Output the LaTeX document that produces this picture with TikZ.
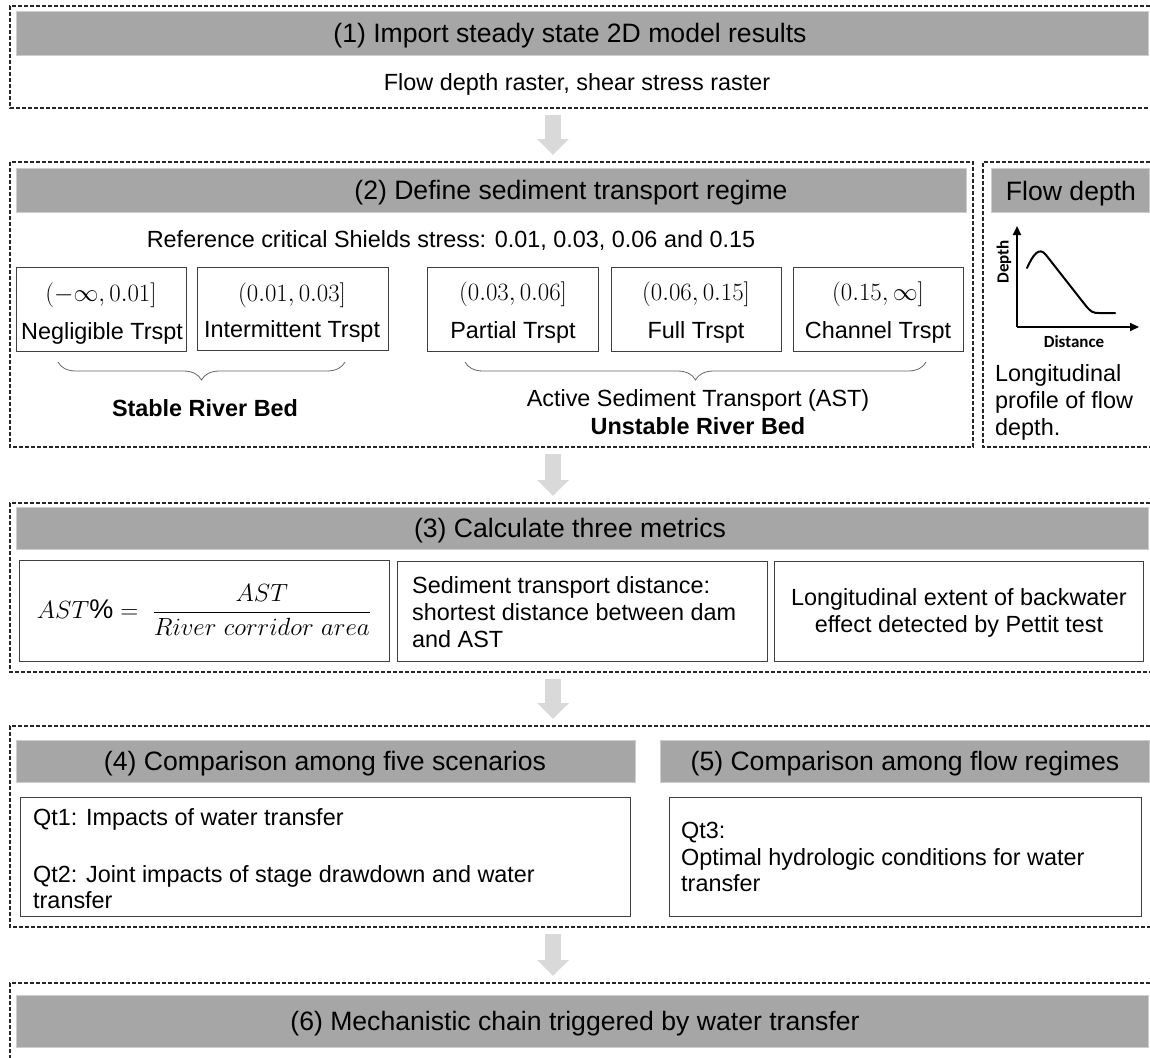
\documentclass[tikz,border=0pt]{standalone}
\usepackage{fontspec}
\setmainfont{Liberation Sans}
\newfontfamily\calibfont{Carlito}
\usetikzlibrary{arrows.meta,decorations.pathreplacing}
\definecolor{barg}{RGB}{166,166,166}
\definecolor{barl}{RGB}{205,205,205}
\definecolor{arrg}{RGB}{217,217,217}
\definecolor{boxl}{RGB}{64,64,64}
\newcommand{\ttlfont}{\fontsize{26.6}{32}\selectfont}
\newcommand{\bodyfont}{\fontsize{23.4}{27}\selectfont}
\newcommand{\lblfont}{\calibfont\bfseries\fontsize{17}{20}\selectfont}
\begin{document}
\begin{tikzpicture}[x=1pt,y=-1pt,
  frame/.style={draw=black!85, dash pattern=on 4pt off 2pt, line width=1.1pt},
  graybar/.style={fill=barg, draw=barl, line width=1pt, inner sep=0pt, anchor=north west},
  regbox/.style={draw=boxl, line width=1.3pt, inner sep=0pt, anchor=north west},
  ttl/.style={font=\ttlfont, inner sep=0pt, anchor=base},
  txt/.style={font=\bodyfont, inner sep=0pt, anchor=base},
  txtl/.style={font=\bodyfont, inner sep=0pt, anchor=base west},
  boldtxt/.style={font=\bodyfont\bfseries, inner sep=0pt, anchor=base},
  bigarrow/.style={draw=arrg, line width=16pt, -{Triangle[length=16pt,width=31pt]}, shorten <=7pt, shorten >=7pt},
  brc/.style={draw=black!60, line width=0.8pt, decorate, decoration={brace, mirror, amplitude=18pt}},
  axisline/.style={draw=black, line width=2pt, -{Triangle[length=9pt,width=8pt]}},
  lbl/.style={font=\lblfont, inner sep=0pt}
]
\useasboundingbox (0,0) rectangle (1150,1057);

% ---------- frames ----------
\draw[frame] (1150,6) -- (10,6) -- (10,108) -- (1150,108);
\draw[frame] (10,162) rectangle (973,447);
\draw[frame] (1150,162) -- (983,162) -- (983,447) -- (1150,447);
\draw[frame] (1150,503) -- (10,503) -- (10,672) -- (1150,672);
\draw[frame] (1150,726) -- (10,726) -- (10,927) -- (1150,927);
\draw[frame] (1150,983) -- (10,983) -- (10,1062);

% ---------- section 1 ----------
\node[graybar, minimum width=1132pt, minimum height=44pt] (g1) at (16,11) {};
\node[ttl] (t1) at (570,43) {(1) Import steady state 2D model results};
\node[txt] (s1txt) at (577,90) {Flow depth raster, shear stress raster};

% ---------- section 2 ----------
\node[graybar, minimum width=950pt, minimum height=44pt] (g2) at (16,168) {};
\node[ttl] (t2) at (571,199) {(2) Define sediment transport regime};
\node[txt] (ref) at (451,247) {Reference critical Shields stress: 0.01, 0.03, 0.06 and 0.15};

\node[regbox, minimum width=170pt, minimum height=84pt] (bA) at (16,267) {};
\node[regbox, minimum width=191pt, minimum height=83pt] (bB) at (197,267) {};
\node[regbox, minimum width=171pt, minimum height=84pt] (bC) at (427,267) {};
\node[regbox, minimum width=170pt, minimum height=84pt] (bD) at (611,267) {};
\node[regbox, minimum width=170pt, minimum height=84pt] (bE) at (793,267) {};

\node[txt] (mA) at (101,301) {$(-\infty, 0.01]$};
\node[txt] (wA) at (102,339) {Negligible Trspt};
\node[txt] (mB) at (292,301) {$(0.01, 0.03]$};
\node[txt] (wB) at (292,337) {Intermittent Trspt};
\node[txt] (mC) at (513,300) {$(0.03, 0.06]$};
\node[txt] (wC) at (513,338) {Partial Trspt};
\node[txt] (mD) at (696,300) {$(0.06, 0.15]$};
\node[txt] (wD) at (696,338) {Full Trspt};
\node[txt] (mE) at (878,300) {$(0.15, \infty]$};
\node[txt] (wE) at (878,338) {Channel Trspt};

\coordinate (br1a) at (58,362);
\coordinate (br1b) at (345,362);
\coordinate (br2a) at (465,362);
\coordinate (br2b) at (926,362);
\draw[brc] (br1a) -- (br1b);
\draw[brc] (br2a) -- (br2b);
\node[boldtxt] (stable) at (205,416) {Stable River Bed};
\node[txt] (active) at (698,406) {Active Sediment Transport (AST)};
\node[boldtxt] (unstable) at (698,434) {Unstable River Bed};

% ---------- flow depth panel ----------
\node[graybar, minimum width=158pt, minimum height=44pt] (gf) at (991,168) {};
\node[ttl] (tf) at (1071,200) {Flow depth};
\coordinate (org) at (1017,327);
\coordinate (ytip) at (1017,226);
\coordinate (xtip) at (1139,327);
\draw[axisline] (org) -- (ytip);
\draw[axisline] (org) -- (xtip);
\draw[line width=2pt, line cap=round, line join=round]
  (1027,268) .. controls (1033,255) and (1039,246) .. (1046,255)
  -- (1086,306) .. controls (1091,312) and (1093,313) .. (1099,313) -- (1115,313);
\node[lbl, rotate=90] (depthlbl) at (1004,262) {Depth};
\node[lbl] (distlbl) at (1074,342) {Distance};
\node[txtl] (lp1) at (995,381) {Longitudinal};
\node[txtl] (lp2) at (995,408) {profile of flow};
\node[txtl] (lp3) at (995,435) {depth.};

% ---------- section 3 ----------
\node[graybar, minimum width=1132pt, minimum height=42pt] (g3) at (16,507) {};
\node[ttl] (t3) at (570,537) {(3) Calculate three metrics};
\node[regbox, minimum width=370pt, minimum height=101pt] (c1) at (19,560) {};
\node[regbox, minimum width=370pt, minimum height=100pt] (c2) at (397,561) {};
\node[regbox, minimum width=369pt, minimum height=100pt] (c3) at (774,561) {};
\node[font=\fontsize{27}{32}\selectfont, inner sep=0pt, anchor=base] (fm) at (204,618)
  {$\displaystyle AST\% = \ \frac{AST}{River\ corridor\ area}$};
\node[txtl] (d1) at (412,593) {Sediment transport distance:};
\node[txtl] (d2) at (412,620) {shortest distance between dam};
\node[txtl] (d3) at (412,647) {and AST};
\node[txt] (e1) at (959,605) {Longitudinal extent of backwater};
\node[txt] (e2) at (959,632) {effect detected by Pettit test};

% ---------- sections 4 and 5 ----------
\node[graybar, minimum width=619pt, minimum height=42pt] (g4) at (16,740) {};
\node[graybar, minimum width=489pt, minimum height=42pt] (g5) at (660,740) {};
\node[ttl] (t4) at (325,770) {(4) Comparison among five scenarios};
\node[ttl] (t5) at (905,770) {(5) Comparison among flow regimes};
\node[regbox, minimum width=610pt, minimum height=119pt] (q4) at (20,797) {};
\node[regbox, minimum width=472pt, minimum height=119pt] (q5) at (669,797) {};
\node[txtl] (qa) at (33,825) {Qt1: Impacts of water transfer};
\node[txtl] (qb) at (33,882) {Qt2: Joint impacts of stage drawdown and water};
\node[txtl] (qc) at (33,908) {transfer};
\node[txtl] (qd) at (681,838) {Qt3:};
\node[txtl] (qe) at (681,865) {Optimal hydrologic conditions for water};
\node[txtl] (qf) at (681,891) {transfer};

% ---------- section 6 ----------
\node[graybar, minimum width=1132pt, minimum height=52pt] (g6) at (16,995) {};
\node[ttl] (t6) at (575,1030) {(6) Mechanistic chain triggered by water transfer};

% ---------- block arrows ----------
\coordinate (a1s) at (553,108);
\coordinate (a1e) at (553,162);
\coordinate (a2s) at (553,447);
\coordinate (a2e) at (553,503);
\coordinate (a3s) at (553,672);
\coordinate (a3e) at (553,726);
\coordinate (a4s) at (553,927);
\coordinate (a4e) at (553,983);
\draw[bigarrow] (a1s) -- (a1e);
\draw[bigarrow] (a2s) -- (a2e);
\draw[bigarrow] (a3s) -- (a3e);
\draw[bigarrow] (a4s) -- (a4e);
\end{tikzpicture}
\end{document}
